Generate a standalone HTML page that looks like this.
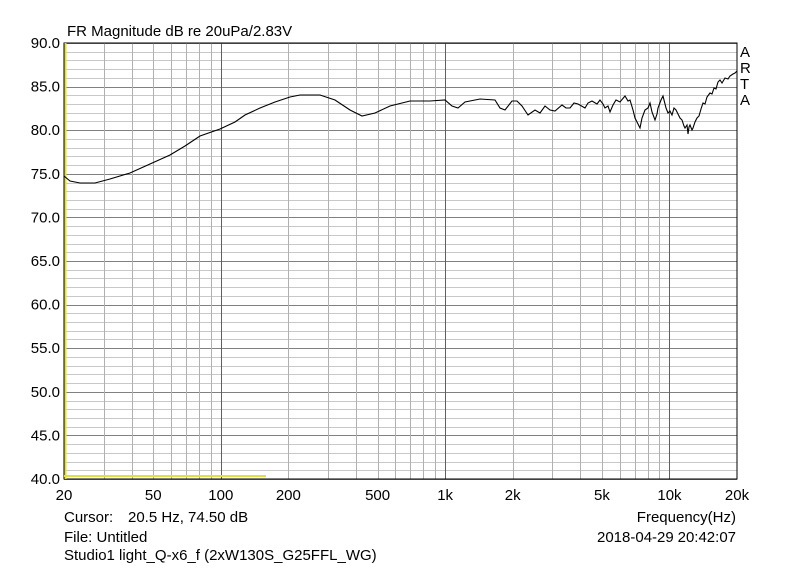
<!DOCTYPE html>
<html><head><meta charset="utf-8"><style>body{margin:0;background:#fff}svg{display:block}</style></head><body>
<svg width="800" height="568" xmlns="http://www.w3.org/2000/svg" font-family="Liberation Sans, sans-serif">
<rect width="800" height="568" fill="#fff"/>
<g id="grid"></g>
<rect x="64" y="43" width="673" height="436" fill="none" stroke="#000" stroke-width="1"/>
<line x1="65.5" y1="43" x2="65.5" y2="479" stroke="#e0e040" stroke-width="2"/>
<line x1="64" y1="476" x2="266" y2="476" stroke="#e0e040" stroke-width="2"/>
<polyline fill="none" stroke="#000" stroke-width="1.1" points="64,176 70,181 80,183 95,183 110,179 130,173 150,164 170,155 185,146 200,136 220,129 235,122 245,115 260,108 275,102 290,97 300,95 320,95 335,100 350,110 362,116 375,113 390,106 410,101 430,101 445,100 452,106 458,108 465,102 480,99 495,100 500,108 505,110 512,101 517,101 522,106 528,115 535,110 540,113 545,106 550,110 555,111 562,105 566,108 570,108 574,103 578,104 585,108 588,103 592,101 597,104 600,100 603,104 605,108 608,106 610,112 613,105 616,100 620,102 625,96 628,101 630,100 633,110 635,118 638,124 640,128 642,118 645,110 648,108 650,103 652,112 655,120 657,114 658,108 661,100 663,96 666,108 668,113 670,111 672,115 674,108 676,110 678,114 680,118 682,120 684,126 685,128 687,125 688,134 689,127 690,125 692,130 693,128 695,122 697,118 699,116 701,109 703,103 705,104 707,97 710,93 712,94 714,88 716,89 718,82 720,80 722,83 725,78 728,79 730,76 733,74 735,73 737,71"/>
<g font-size="15" fill="#000">
<text x="67" y="36">FR Magnitude dB re 20uPa/2.83V</text>
<g text-anchor="end" id="ylab"></g>
<g text-anchor="middle" id="xlab"></g>
<text x="740" y="57">A</text>
<text x="740" y="73">R</text>
<text x="740" y="89">T</text>
<text x="740" y="105">A</text>
<text x="64" y="522">Cursor:</text>
<text x="128" y="522">20.5 Hz, 74.50 dB</text>
<text x="736" y="522" text-anchor="end">Frequency(Hz)</text>
<text x="64" y="542">File: Untitled</text>
<text x="597" y="542">2018-04-29</text>
<text x="736" y="542" text-anchor="end">20:42:07</text>
<text x="64" y="560">Studio1 light_Q-x6_f (2xW130S_G25FFL_WG)</text>
</g>
<script>
var g=document.getElementById('grid'),ns='http://www.w3.org/2000/svg';
function L(x1,y1,x2,y2,c){var l=document.createElementNS(ns,'line');l.setAttribute('x1',x1);l.setAttribute('y1',y1);l.setAttribute('x2',x2);l.setAttribute('y2',y2);l.setAttribute('stroke',c);l.setAttribute('stroke-width',1);g.appendChild(l);}
for(var d=0;d<=50;d++){var y=Math.round(43+d*436/50)+0.5;L(64,y,737,y,d%5==0?'#808080':'#c8c8c8');}
var X=function(f){return 64+224.33*Math.log10(f/20);};
for(var dec=10;dec<=10000;dec*=10)for(var k=1;k<=10;k++){var f=dec*k;if(f<=20||f>=20000)continue;var x=Math.round(X(f))+0.5;L(x,43,x,479,(k==1||k==10)?'#606060':'#b0b0b0');}
var yl=document.getElementById('ylab');
for(var i=0;i<=10;i++){var t=document.createElementNS(ns,'text');t.setAttribute('x',60);t.setAttribute('y',43+i*43.6+5);t.textContent=(90-5*i).toFixed(1);yl.appendChild(t);}
var xl=document.getElementById('xlab');
[[20,'20'],[50,'50'],[100,'100'],[200,'200'],[500,'500'],[1000,'1k'],[2000,'2k'],[5000,'5k'],[10000,'10k'],[20000,'20k']].forEach(function(p){var t=document.createElementNS(ns,'text');t.setAttribute('x',X(p[0]));t.setAttribute('y',500);t.textContent=p[1];xl.appendChild(t);});
</script>
</svg>
</body></html>
